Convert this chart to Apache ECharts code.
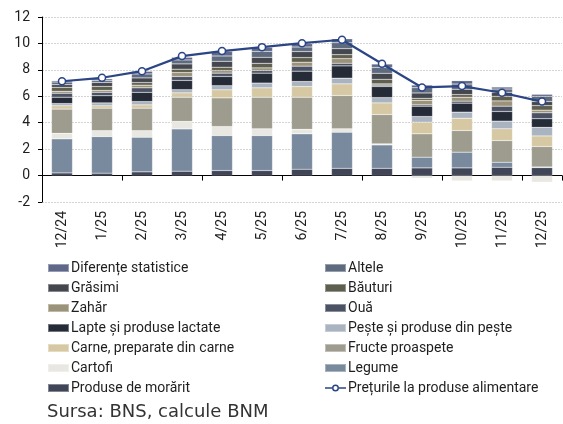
<!DOCTYPE html>
<html>

<head>
  <meta charset="utf-8">
  <title>Preturi produse alimentare</title>
  <script src="https://cdn.jsdelivr.net/npm/echarts@6/dist/echarts.min.js"></script>
  <style>
    html, body { margin: 0; padding: 0; background: #fff; }
    #chart { width: 563px; height: 424px; }
  </style>
</head>

<body>
  <div id="chart"></div>
  <script>
    // date
    const luni = ['12/24', '1/25', '2/25', '3/25', '4/25', '5/25', '6/25', '7/25', '8/25', '9/25', '10/25', '11/25', '12/25'];
    const morarit = [0.2, 0.18, 0.28, 0.33, 0.38, 0.38, 0.48, 0.55, 0.55, 0.58, 0.58, 0.63, 0.6];
    const legume = [2.58, 2.77, 2.62, 3.2, 2.65, 2.65, 2.68, 2.73, 1.77, 0.81, 1.19, 0.38, 0.05];
    const cartofi = [0.42, 0.45, 0.5, 0.57, 0.68, 0.51, 0.34, 0.26, 0.08, -0.2, -0.4, -0.4, -0.5];
    const fructe = [1.83, 1.7, 1.7, 1.83, 2.17, 2.39, 2.43, 2.52, 2.22, 1.77, 1.64, 1.64, 1.55];
    const carne = [0.25, 0.18, 0.25, 0.33, 0.61, 0.71, 0.81, 0.88, 0.88, 0.88, 0.93, 0.89, 0.8];
    const peste = [0.17, 0.22, 0.25, 0.24, 0.31, 0.36, 0.38, 0.43, 0.4, 0.43, 0.46, 0.58, 0.65];
    const lapte = [0.48, 0.54, 0.7, 0.7, 0.7, 0.75, 0.78, 0.93, 0.84, 0.78, 0.68, 0.73, 0.65];
    const oua = [0.3, 0.26, 0.34, 0.3, 0.25, 0.2, 0.38, 0.2, 0.1, 0.1, 0.15, 0.4, 0.45];
    const zahar = [0.15, 0.15, 0.2, 0.3, 0.2, 0.2, 0.3, 0.35, 0.1, 0.35, 0.3, 0.4, 0.2];
    const bauturi = [0.3, 0.3, 0.2, 0.25, 0.25, 0.35, 0.35, 0.3, 0.35, 0.15, 0.2, 0.35, 0.35];
    const grasimi = [0.2, 0.3, 0.35, 0.4, 0.45, 0.45, 0.45, 0.45, 0.45, 0.4, 0.4, 0.3, 0.3];
    const altele = [0.2, 0.15, 0.3, 0.3, 0.4, 0.45, 0.35, 0.45, 0.45, 0.4, 0.4, 0.25, 0.4];
    const diferente = [0.1, 0.12, 0.2, 0.2, 0.35, 0.3, 0.25, 0.3, 0.25, 0.2, 0.25, 0.15, 0.15];
    const preturi = [7.14, 7.4, 7.9, 9.04, 9.42, 9.72, 10.02, 10.28, 8.46, 6.67, 6.77, 6.27, 5.6];

    // ordinea de stivuire: de jos in sus
    const componente = [
      ['Produse de morărit', morarit, '#404558'],
      ['Legume', legume, '#7a8a9e'],
      ['Cartofi', cartofi, '#e8e7e1'],
      ['Fructe proaspete', fructe, '#9e9c8e'],
      ['Carne, preparate din carne', carne, '#d6c8a2'],
      ['Pește și produse din pește', peste, '#aab3c0'],
      ['Lapte și produse lactate', lapte, '#262b38'],
      ['Ouă', oua, '#4a5264'],
      ['Zahăr', zahar, '#9c9279'],
      ['Băuturi', bauturi, '#5f5f50'],
      ['Grăsimi', grasimi, '#45474e'],
      ['Altele', altele, '#5e6b7e'],
      ['Diferențe statistice', diferente, '#5f6888']
    ];
    const numeLinie = 'Prețurile la produse alimentare';
    const albastru = '#2b4585';

    const series = componente.map(c => ({
      name: c[0],
      type: 'bar',
      stack: 'total',
      barWidth: 21,
      data: c[1],
      itemStyle: { color: c[2], borderColor: 'rgba(255,255,255,0.35)', borderWidth: 0.5 }
    }));
    series.push({
      name: numeLinie,
      type: 'line',
      data: preturi,
      symbol: 'circle',
      symbolSize: 7,
      z: 5,
      lineStyle: { color: albastru, width: 2.2 },
      itemStyle: { color: '#fff', borderColor: albastru, borderWidth: 1.5 }
    });

    const legStanga = ['Diferențe statistice', 'Grăsimi', 'Zahăr', 'Lapte și produse lactate',
      'Carne, preparate din carne', 'Cartofi', 'Produse de morărit'];
    const legDreapta = ['Altele', 'Băuturi', 'Ouă', 'Pește și produse din pește',
      'Fructe proaspete', 'Legume', numeLinie];

    // linie cu cerc gol pentru legenda
    const iconLinie = 'path://M0,3.3 L7,3.3 L7,4.7 L0,4.7 Z M14,3.3 L21,3.3 L21,4.7 L14,4.7 Z ' +
      'M7,4 A3.5,3.5 0 1,0 14,4 A3.5,3.5 0 1,0 7,4 Z M8.5,4 A2,2 0 1,1 12.5,4 A2,2 0 1,1 8.5,4 Z ' +
      'M0,0 L0.01,0 L0.01,0.01 Z M0,8 L0.01,8 L0.01,7.99 Z';

    const legendBase = {
      orient: 'vertical',
      top: 255,
      itemWidth: 21,
      itemHeight: 8,
      itemGap: 4,
      textStyle: { fontFamily: 'Roboto', fontSize: 14, color: '#1e1e1e', lineHeight: 16, padding: [0, 0, 0, -3] }
    };

    const chart = echarts.init(document.getElementById('chart'));
    chart.setOption({
      animation: false,
      textStyle: { fontFamily: 'Roboto' },
      grid: { left: 42, right: 1, top: 17, bottom: 222, containLabel: false },
      legend: [
        Object.assign({}, legendBase, { left: 42, data: legStanga.map(n => ({ name: n, icon: 'rect' })) }),
        Object.assign({}, legendBase, {
          left: 319,
          data: legDreapta.map(n => n === numeLinie
            ? { name: n, icon: iconLinie, itemStyle: { color: albastru, borderWidth: 0 } }
            : { name: n, icon: 'rect' })
        })
      ],
      xAxis: [{
        type: 'category',
        data: luni,
        axisLine: { onZero: true, lineStyle: { color: '#000', width: 1 } },
        axisTick: { show: true, length: 5, lineStyle: { color: '#000' } },
        axisLabel: { show: false }
      }, {
        type: 'category',
        data: luni,
        position: 'bottom',
        axisLine: { show: false, onZero: false },
        axisTick: { show: false },
        axisLabel: { rotate: 90, margin: 9, fontSize: 14, color: '#1e1e1e' }
      }],
      yAxis: {
        type: 'value',
        min: -2,
        max: 12,
        interval: 2,
        axisLine: { show: true, lineStyle: { color: '#000' } },
        axisTick: { show: true, length: 4, lineStyle: { color: '#000' } },
        axisLabel: { fontSize: 14, color: '#1e1e1e', margin: 12 },
        splitLine: { lineStyle: { color: '#d4d4d4', type: [2, 1] } }
      },
      graphic: [{
        type: 'text',
        left: 47,
        top: 403,
        style: { text: 'Sursa: BNS, calcule BNM', font: '18px "DejaVu Sans"', fill: '#333' }
      }],
      series: series
    });
  </script>
</body>

</html>
